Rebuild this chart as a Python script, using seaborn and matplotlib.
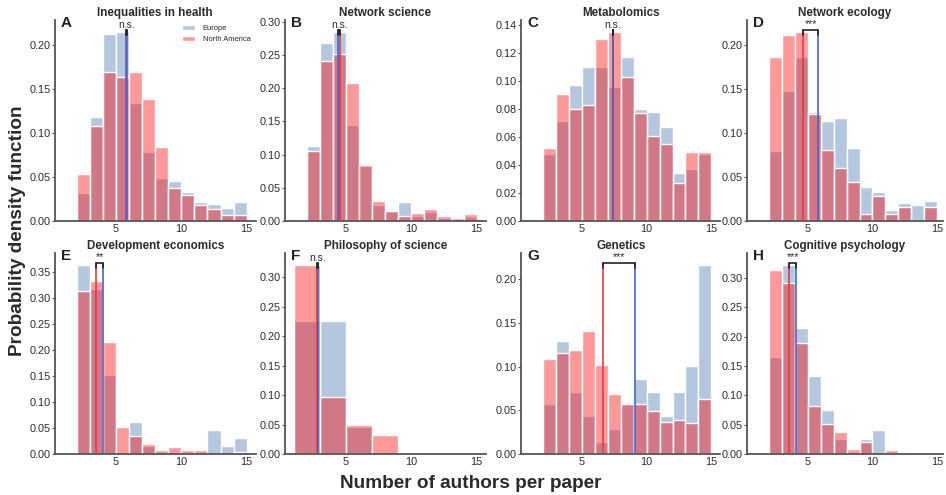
import numpy as np
import pandas as pd
import matplotlib
matplotlib.use("Agg")
import matplotlib.pyplot as plt
from matplotlib.ticker import MultipleLocator, FormatStrFormatter
import seaborn as sns

# ---- data: per-field histogram densities of authors per paper ----
fields = ["Inequalities in health", "Network science", "Metabolomics", "Network ecology",
          "Development economics", "Philosophy of science", "Genetics", "Cognitive psychology"]
letters = ["A", "B", "C", "D", "E", "F", "G", "H"]

unit_edges = list(range(2, 16))          # 2, 3, ..., 15
wide_edges = [1, 3, 5, 7, 9]             # coarser bins for philosophy of science
bin_edges = [unit_edges, unit_edges, unit_edges, unit_edges,
             unit_edges, wide_edges, unit_edges, unit_edges]

europe = [
    [0.032, 0.118, 0.2125, 0.2147, 0.1338, 0.0786, 0.049, 0.045, 0.0329, 0.0216, 0.0193, 0.0147, 0.0216],
    [0.1129, 0.2684, 0.285, 0.1445, 0.0833, 0.0241, 0.0146, 0.0286, 0.0075, 0.014, 0.004, 0.0, 0.0055],
    [0.0481, 0.0714, 0.0971, 0.1098, 0.110, 0.096, 0.1171, 0.080, 0.0779, 0.0671, 0.034, 0.0371, 0.0481],
    [0.0798, 0.1478, 0.1864, 0.1236, 0.1134, 0.1164, 0.0828, 0.0382, 0.0333, 0.0125, 0.0204, 0.0178, 0.0227],
    [0.364, 0.318, 0.1517, 0.0, 0.0612, 0.016, 0.0, 0.0, 0.0, 0.0, 0.0459, 0.0153, 0.0306],
    [0.2267, 0.2267, 0.0462, 0.0],
    [0.0575, 0.1299, 0.0716, 0.043, 0.0141, 0.0286, 0.0575, 0.0865, 0.0716, 0.043, 0.0716, 0.101, 0.2168],
    [0.1647, 0.322, 0.2143, 0.132, 0.0745, 0.0254, 0.0, 0.0254, 0.0417, 0.0, 0.0, 0.0, 0.0],
]
north_america = [
    [0.053, 0.108, 0.1686, 0.1637, 0.1686, 0.1384, 0.0839, 0.0378, 0.0299, 0.0181, 0.0132, 0.0064, 0.0064],
    [0.1054, 0.2413, 0.2519, 0.2077, 0.0843, 0.0301, 0.0156, 0.008, 0.0125, 0.0176, 0.0075, 0.005, 0.0105],
    [0.0524, 0.091, 0.0802, 0.0829, 0.1298, 0.1352, 0.1026, 0.0774, 0.061, 0.0552, 0.0274, 0.0495, 0.0495],
    [0.1864, 0.2113, 0.2147, 0.1217, 0.0809, 0.0605, 0.0446, 0.0079, 0.0284, 0.0079, 0.0163, 0.0, 0.0163],
    [0.3137, 0.332, 0.2155, 0.051, 0.035, 0.019, 0.007, 0.0128, 0.007, 0.007, 0.0, 0.0, 0.0038],
    [0.3215, 0.097, 0.0485, 0.0321],
    [0.1093, 0.1162, 0.1196, 0.141, 0.1021, 0.0686, 0.0568, 0.0568, 0.0491, 0.0366, 0.0389, 0.0358, 0.0636],
    [0.3125, 0.2905, 0.1884, 0.0823, 0.0519, 0.0372, 0.0085, 0.0203, 0.0, 0.0062, 0.0034, 0.0034, 0.0],
]

# mean number of authors per paper
mean_europe = [5.74, 4.39, 7.42, 5.79, 3.98, 2.84, 9.12, 4.07]
mean_north_america = [5.84, 4.57, 7.38, 4.64, 3.49, 2.78, 6.60, 3.58]
significance = ["n.s.", "n.s.", "n.s.", "***", "**", "n.s.", "***", "***"]
y_steps = [0.05, 0.05, 0.02, 0.05, 0.05, 0.05, 0.05, 0.05]

EU_COLOR = "#b0c4de"
NA_COLOR = "#ff0000"
EU_LINE = "#3f66d6"
NA_LINE = "#e23b3f"
TEXT = "#2b2b2b"
SPINE = "#555555"

sns.set_style("white")
plt.rcParams["font.family"] = ["Liberation Sans", "DejaVu Sans"]

W, H = 946, 495
fig = plt.figure(figsize=(W / 100, H / 100), dpi=100)

lefts = [54.6, 284.6, 521.2, 747.0]
widths = [201.2, 201.2, 199.2, 196.0]
tops = [20, 253]
height = 201


def axes_at(left, top, w, h):
    return fig.add_axes([left / W, (H - top - h) / H, w / W, h / H])


for i, field in enumerate(fields):
    row, col = divmod(i, 4)
    ax = axes_at(lefts[col], tops[row], widths[col], height)

    edges = [float(e) for e in bin_edges[i]]
    centers = [(a + b) / 2 for a, b in zip(edges[:-1], edges[1:])]
    df = pd.DataFrame({
        "authors": centers + centers,
        "density": list(europe[i]) + list(north_america[i]),
        "region": ["Europe"] * len(centers) + ["North America"] * len(centers),
    })

    sns.histplot(data=df[df.region == "Europe"], x="authors", weights="density",
                 bins=edges, stat="count", color=EU_COLOR, alpha=0.95,
                 edgecolor="white", linewidth=1.0, ax=ax, label="Europe")
    sns.histplot(data=df[df.region == "North America"], x="authors", weights="density",
                 bins=edges, stat="count", color=NA_COLOR, alpha=0.4,
                 edgecolor="white", linewidth=1.0, ax=ax, label="North America")

    top_val = 1.012 * max(max(europe[i]), max(north_america[i]))

    # mean lines joined by a significance bracket
    ax.plot([mean_north_america[i]] * 2, [0, top_val], color=NA_LINE, lw=1.4, alpha=0.85, zorder=3)
    ax.plot([mean_europe[i]] * 2, [0, top_val], color=EU_LINE, lw=1.4, alpha=0.85, zorder=3)
    x_lo = min(mean_europe[i], mean_north_america[i])
    x_hi = max(mean_europe[i], mean_north_america[i])
    tick = top_val * 0.03
    ax.plot([x_lo, x_lo, x_hi, x_hi], [top_val - tick, top_val, top_val, top_val - tick],
            color="#222222", lw=1.2, zorder=4)
    ax.text((x_lo + x_hi) / 2, top_val, significance[i], ha="center", va="bottom",
            fontsize=7.5, color=TEXT)

    ax.set_xlim(0.3, 15.7 if col < 3 else 15.45)
    ax.set_ylim(0, top_val * 1.05)
    ax.xaxis.set_major_locator(MultipleLocator(5))
    ax.yaxis.set_major_locator(MultipleLocator(y_steps[i]))
    ax.yaxis.set_major_formatter(FormatStrFormatter("%.2f"))

    ax.set_title(field, fontsize=8.4, fontweight="bold", color=TEXT, pad=3)
    ax.text(0.03, 0.965, letters[i], transform=ax.transAxes, fontsize=11,
            fontweight="bold", color="#222222", va="baseline", ha="left")
    ax.set_xlabel("")
    ax.set_ylabel("")

    sns.despine(ax=ax)
    for side in ("left", "bottom"):
        ax.spines[side].set_color(SPINE)
        ax.spines[side].set_linewidth(1.3)
    ax.tick_params(axis="y", which="major", left=True, length=2, width=0.8,
                   color=SPINE, pad=1, labelsize=7.8, labelcolor=TEXT)
    ax.tick_params(axis="x", which="major", bottom=False, length=0, pad=2.5,
                   labelsize=7.8, labelcolor=TEXT)

    if i == 0:
        ax.legend(loc="upper right", bbox_to_anchor=(1.0, 1.0), frameon=False,
                  fontsize=5.4, handlelength=1.75, handleheight=0.6,
                  handletextpad=1.0, labelspacing=0.5, borderaxespad=0.3)

fig.text(18 / W, (H - 231) / H, "Probability density function", rotation=90,
         ha="center", va="center", fontsize=13.7, fontweight="bold", color=TEXT)
fig.text(470.5 / W, (H - 483) / H, "Number of authors per paper",
         ha="center", va="center", fontsize=13.7, fontweight="bold", color=TEXT)

fig.savefig("out.png", dpi=100)
